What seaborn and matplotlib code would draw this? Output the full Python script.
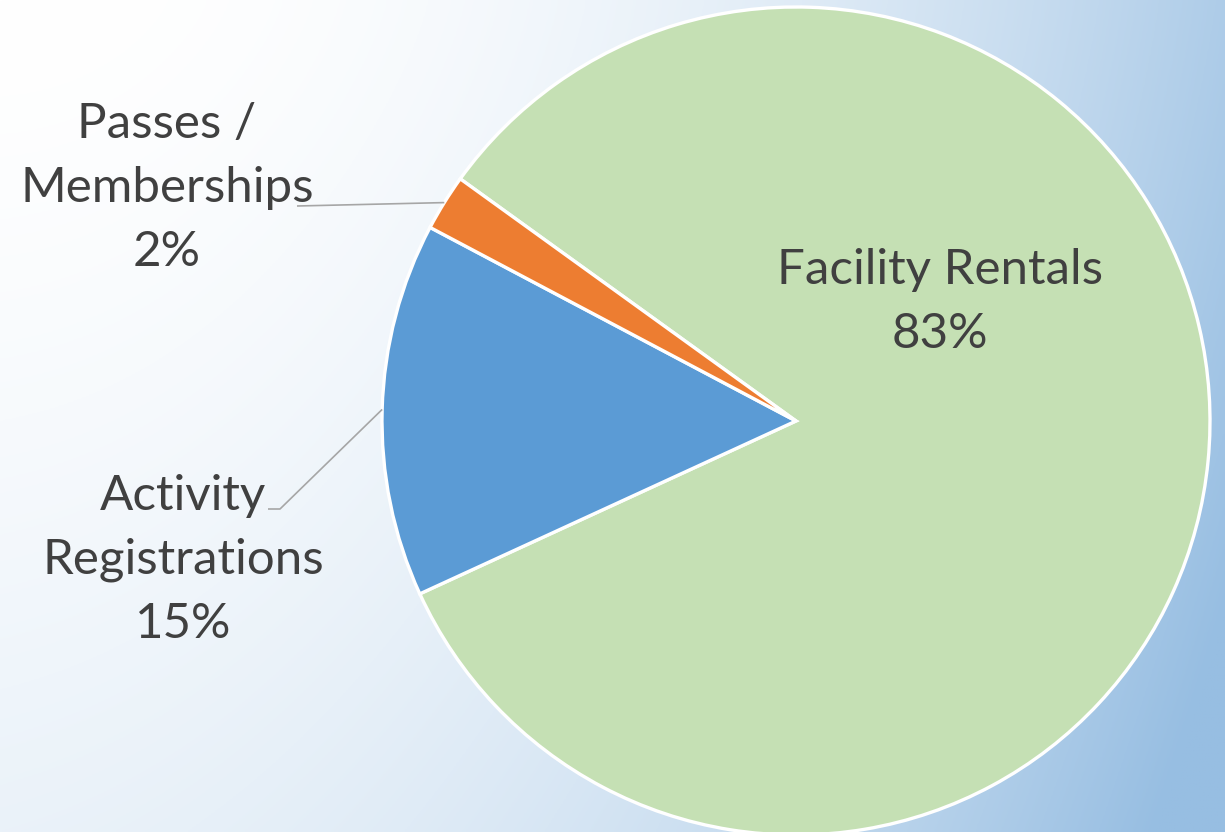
import numpy as np
import matplotlib
matplotlib.use("Agg")
import matplotlib.pyplot as plt
import seaborn as sns

categories = ["Facility Rentals", "Activity Registrations", "Passes / Memberships"]
display_labels = ["Facility Rentals", "Activity\nRegistrations", "Passes /\nMemberships"]
values = [83.2, 14.6, 2.2]
colors = ["#C5E0B4", "#5B9BD5", "#ED7D31"]

sns.set_theme(style="white")
plt.rcParams['font.family'] = ['Lato', 'DejaVu Sans']

W, H = 1225, 832
fig = plt.figure(figsize=(W / 100, H / 100), dpi=100)

# background gradient
bg = fig.add_axes([0, 0, 1, 1])
bg.set_axis_off()
xx, yy = np.meshgrid(np.linspace(0, 1, 400), np.linspace(0, 1, 300))
t = np.clip(0.78 * xx ** 2.2 + 0.2 * yy ** 1.4 + 0.12 * (xx * yy), 0, 1)
white = np.array([1.0, 1.0, 1.0])
blue = np.array([0x97, 0xBE, 0xE2]) / 255.0
img = white[None, None, :] * (1 - t[..., None]) + blue[None, None, :] * t[..., None]
bg.imshow(img, extent=[0, 1, 0, 1], origin="upper", aspect="auto")
bg.set_xlim(0, 1)
bg.set_ylim(0, 1)

ax = fig.add_axes([0, 0, 1, 1])
ax.set_axis_off()
ax.patch.set_alpha(0)
cx, cy, r = 796, H - 421, 414
wedges, _ = ax.pie(values, colors=colors, startangle=144.2, counterclock=False,
                   center=(cx, cy), radius=r,
                   wedgeprops=dict(edgecolor="white", linewidth=2.4))
ax.set_xlim(0, W)
ax.set_ylim(0, H)
ax.set_aspect("equal")

txt_color = "#404040"
fs = 35.5
ls = 1.56
pct = [f"{round(v):d}%" for v in values]

# Facility Rentals (inside)
ax.text(940, H - 302, f"{display_labels[0]}\n{pct[0]}", ha="center", va="center",
        fontsize=fs, color=txt_color, linespacing=ls)
# Activity Registrations
ax.text(183, H - 560, f"{display_labels[1]}\n{pct[1]}", ha="center", va="center",
        fontsize=fs, color=txt_color, linespacing=ls)
# Passes / Memberships
ax.text(167, H - 188, f"{display_labels[2]}\n{pct[2]}", ha="center", va="center",
        fontsize=fs, color=txt_color, linespacing=ls)

def edge_point(w):
    ang = np.deg2rad((w.theta1 + w.theta2) / 2)
    return cx + r * np.cos(ang), cy + r * np.sin(ang)

lc = "#A6A6A6"
ex, ey = edge_point(wedges[2])
ax.plot([297, ex], [H - 206, ey], color=lc, lw=1.2, solid_capstyle="butt")
ex, ey = edge_point(wedges[1])
ax.plot([268, 280, ex], [H - 509, H - 509, ey], color=lc, lw=1.2, solid_capstyle="butt")

fig.savefig("out.png", dpi=100)
